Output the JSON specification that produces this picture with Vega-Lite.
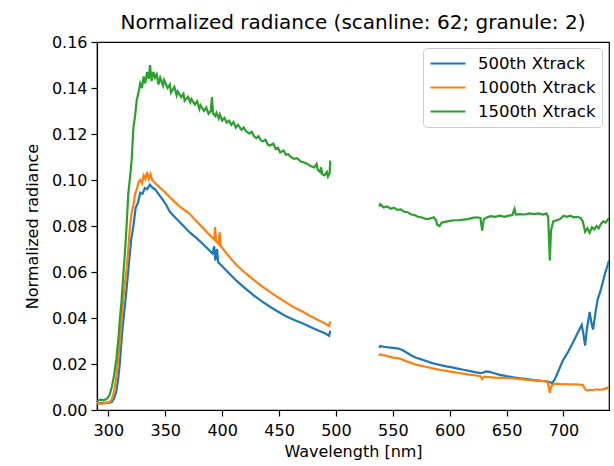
{
"$schema": "https://vega.github.io/schema/vega-lite/v6.json",
"width": 512, "height": 368,
"autosize": {"type": "none"},
"padding": {"left": 97, "top": 42, "right": 5, "bottom": 56},
"title": {"text": "Normalized radiance (scanline: 62; granule: 2)", "fontSize": 20, "fontWeight": "normal", "font": "DejaVu Sans", "color": "#000", "offset": 1},
"data": {"values": [
{"s":"500th Xtrack","g":1,"x":290,"y":0.0030},{"s":"500th Xtrack","g":1,"x":294,"y":0.0030},{"s":"500th Xtrack","g":1,"x":298,"y":0.0031},{"s":"500th Xtrack","g":1,"x":301,"y":0.0032},{"s":"500th Xtrack","g":1,"x":303,"y":0.0035},{"s":"500th Xtrack","g":1,"x":305,"y":0.0050},{"s":"500th Xtrack","g":1,"x":307,"y":0.0080},{"s":"500th Xtrack","g":1,"x":308.5,"y":0.0130},{"s":"500th Xtrack","g":1,"x":310,"y":0.0200},{"s":"500th Xtrack","g":1,"x":312,"y":0.0330},{"s":"500th Xtrack","g":1,"x":314,"y":0.0430},{"s":"500th Xtrack","g":1,"x":315.5,"y":0.0500},{"s":"500th Xtrack","g":1,"x":317,"y":0.0580},{"s":"500th Xtrack","g":1,"x":318.5,"y":0.0660},{"s":"500th Xtrack","g":1,"x":320,"y":0.0740},{"s":"500th Xtrack","g":1,"x":322,"y":0.0800},{"s":"500th Xtrack","g":1,"x":324,"y":0.0880},{"s":"500th Xtrack","g":1,"x":326,"y":0.0900},{"s":"500th Xtrack","g":1,"x":328,"y":0.0945},{"s":"500th Xtrack","g":1,"x":330,"y":0.0940},{"s":"500th Xtrack","g":1,"x":332,"y":0.0965},{"s":"500th Xtrack","g":1,"x":334,"y":0.0960},{"s":"500th Xtrack","g":1,"x":336.5,"y":0.0980},{"s":"500th Xtrack","g":1,"x":339,"y":0.0965},{"s":"500th Xtrack","g":1,"x":341,"y":0.0960},{"s":"500th Xtrack","g":1,"x":344,"y":0.0940},{"s":"500th Xtrack","g":1,"x":348,"y":0.0912},{"s":"500th Xtrack","g":1,"x":351,"y":0.0890},{"s":"500th Xtrack","g":1,"x":354,"y":0.0862},{"s":"500th Xtrack","g":1,"x":360,"y":0.0830},{"s":"500th Xtrack","g":1,"x":366,"y":0.0800},{"s":"500th Xtrack","g":1,"x":372,"y":0.0770},{"s":"500th Xtrack","g":1,"x":378,"y":0.0745},{"s":"500th Xtrack","g":1,"x":383,"y":0.0722},{"s":"500th Xtrack","g":1,"x":388,"y":0.0698},{"s":"500th Xtrack","g":1,"x":391.5,"y":0.0680},{"s":"500th Xtrack","g":1,"x":393,"y":0.0712},{"s":"500th Xtrack","g":1,"x":394,"y":0.0650},{"s":"500th Xtrack","g":1,"x":395.5,"y":0.0700},{"s":"500th Xtrack","g":1,"x":396.5,"y":0.0642},{"s":"500th Xtrack","g":1,"x":400,"y":0.0625},{"s":"500th Xtrack","g":1,"x":406,"y":0.0595},{"s":"500th Xtrack","g":1,"x":413,"y":0.0560},{"s":"500th Xtrack","g":1,"x":420,"y":0.0530},{"s":"500th Xtrack","g":1,"x":428,"y":0.0497},{"s":"500th Xtrack","g":1,"x":435,"y":0.0472},{"s":"500th Xtrack","g":1,"x":442,"y":0.0449},{"s":"500th Xtrack","g":1,"x":450,"y":0.0425},{"s":"500th Xtrack","g":1,"x":457,"y":0.0405},{"s":"500th Xtrack","g":1,"x":464,"y":0.0390},{"s":"500th Xtrack","g":1,"x":471,"y":0.0376},{"s":"500th Xtrack","g":1,"x":478,"y":0.0360},{"s":"500th Xtrack","g":1,"x":485,"y":0.0345},{"s":"500th Xtrack","g":1,"x":490,"y":0.0335},{"s":"500th Xtrack","g":1,"x":494,"y":0.0323},{"s":"500th Xtrack","g":1,"x":495,"y":0.0345},
{"s":"500th Xtrack","g":2,"x":538,"y":0.0270},{"s":"500th Xtrack","g":2,"x":539,"y":0.0278},{"s":"500th Xtrack","g":2,"x":542,"y":0.0275},{"s":"500th Xtrack","g":2,"x":546,"y":0.0272},{"s":"500th Xtrack","g":2,"x":550,"y":0.0270},{"s":"500th Xtrack","g":2,"x":554,"y":0.0268},{"s":"500th Xtrack","g":2,"x":558,"y":0.0262},{"s":"500th Xtrack","g":2,"x":562,"y":0.0250},{"s":"500th Xtrack","g":2,"x":566,"y":0.0238},{"s":"500th Xtrack","g":2,"x":570,"y":0.0228},{"s":"500th Xtrack","g":2,"x":575,"y":0.0220},{"s":"500th Xtrack","g":2,"x":580,"y":0.0212},{"s":"500th Xtrack","g":2,"x":584,"y":0.0205},{"s":"500th Xtrack","g":2,"x":588,"y":0.0200},{"s":"500th Xtrack","g":2,"x":592,"y":0.0195},{"s":"500th Xtrack","g":2,"x":597,"y":0.0190},{"s":"500th Xtrack","g":2,"x":602,"y":0.0185},{"s":"500th Xtrack","g":2,"x":607,"y":0.0180},{"s":"500th Xtrack","g":2,"x":612,"y":0.0175},{"s":"500th Xtrack","g":2,"x":617,"y":0.0170},{"s":"500th Xtrack","g":2,"x":622,"y":0.0165},{"s":"500th Xtrack","g":2,"x":627,"y":0.0160},{"s":"500th Xtrack","g":2,"x":629,"y":0.0162},{"s":"500th Xtrack","g":2,"x":632,"y":0.0168},{"s":"500th Xtrack","g":2,"x":635,"y":0.0166},{"s":"500th Xtrack","g":2,"x":639,"y":0.0160},{"s":"500th Xtrack","g":2,"x":644,"y":0.0153},{"s":"500th Xtrack","g":2,"x":650,"y":0.0147},{"s":"500th Xtrack","g":2,"x":656,"y":0.0142},{"s":"500th Xtrack","g":2,"x":662,"y":0.0138},{"s":"500th Xtrack","g":2,"x":668,"y":0.0134},{"s":"500th Xtrack","g":2,"x":674,"y":0.0130},{"s":"500th Xtrack","g":2,"x":680,"y":0.0127},{"s":"500th Xtrack","g":2,"x":686,"y":0.0124},{"s":"500th Xtrack","g":2,"x":689,"y":0.0120},{"s":"500th Xtrack","g":2,"x":690,"y":0.0115},{"s":"500th Xtrack","g":2,"x":693,"y":0.0140},{"s":"500th Xtrack","g":2,"x":696,"y":0.0175},{"s":"500th Xtrack","g":2,"x":699.6,"y":0.0217},{"s":"500th Xtrack","g":2,"x":704,"y":0.0252},{"s":"500th Xtrack","g":2,"x":708,"y":0.0290},{"s":"500th Xtrack","g":2,"x":712,"y":0.0330},{"s":"500th Xtrack","g":2,"x":716,"y":0.0370},{"s":"500th Xtrack","g":2,"x":717.5,"y":0.0330},{"s":"500th Xtrack","g":2,"x":719,"y":0.0280},{"s":"500th Xtrack","g":2,"x":720.5,"y":0.0350},{"s":"500th Xtrack","g":2,"x":723,"y":0.0426},{"s":"500th Xtrack","g":2,"x":724.5,"y":0.0380},{"s":"500th Xtrack","g":2,"x":726,"y":0.0350},{"s":"500th Xtrack","g":2,"x":728,"y":0.0420},{"s":"500th Xtrack","g":2,"x":730,"y":0.0480},{"s":"500th Xtrack","g":2,"x":732,"y":0.0510},{"s":"500th Xtrack","g":2,"x":734,"y":0.0545},{"s":"500th Xtrack","g":2,"x":736.5,"y":0.0594},{"s":"500th Xtrack","g":2,"x":738.5,"y":0.0625},{"s":"500th Xtrack","g":2,"x":740,"y":0.0650},
{"s":"1000th Xtrack","g":1,"x":290,"y":0.0030},{"s":"1000th Xtrack","g":1,"x":294,"y":0.0027},{"s":"1000th Xtrack","g":1,"x":298,"y":0.0031},{"s":"1000th Xtrack","g":1,"x":301,"y":0.0034},{"s":"1000th Xtrack","g":1,"x":303,"y":0.0045},{"s":"1000th Xtrack","g":1,"x":305,"y":0.0080},{"s":"1000th Xtrack","g":1,"x":307,"y":0.0143},{"s":"1000th Xtrack","g":1,"x":309,"y":0.0240},{"s":"1000th Xtrack","g":1,"x":310.5,"y":0.0320},{"s":"1000th Xtrack","g":1,"x":311.7,"y":0.0400},{"s":"1000th Xtrack","g":1,"x":313,"y":0.0480},{"s":"1000th Xtrack","g":1,"x":314.5,"y":0.0550},{"s":"1000th Xtrack","g":1,"x":316,"y":0.0610},{"s":"1000th Xtrack","g":1,"x":317.5,"y":0.0700},{"s":"1000th Xtrack","g":1,"x":319,"y":0.0800},{"s":"1000th Xtrack","g":1,"x":320.5,"y":0.0860},{"s":"1000th Xtrack","g":1,"x":322,"y":0.0890},{"s":"1000th Xtrack","g":1,"x":323.5,"y":0.0940},{"s":"1000th Xtrack","g":1,"x":325,"y":0.0960},{"s":"1000th Xtrack","g":1,"x":326.5,"y":0.0990},{"s":"1000th Xtrack","g":1,"x":328,"y":0.1000},{"s":"1000th Xtrack","g":1,"x":329.5,"y":0.0985},{"s":"1000th Xtrack","g":1,"x":331,"y":0.1020},{"s":"1000th Xtrack","g":1,"x":332.5,"y":0.1005},{"s":"1000th Xtrack","g":1,"x":334,"y":0.1035},{"s":"1000th Xtrack","g":1,"x":335.5,"y":0.1005},{"s":"1000th Xtrack","g":1,"x":337,"y":0.1025},{"s":"1000th Xtrack","g":1,"x":338.5,"y":0.1000},{"s":"1000th Xtrack","g":1,"x":340,"y":0.0992},{"s":"1000th Xtrack","g":1,"x":342,"y":0.0982},{"s":"1000th Xtrack","g":1,"x":345,"y":0.0968},{"s":"1000th Xtrack","g":1,"x":348,"y":0.0955},{"s":"1000th Xtrack","g":1,"x":351,"y":0.0940},{"s":"1000th Xtrack","g":1,"x":354,"y":0.0925},{"s":"1000th Xtrack","g":1,"x":358,"y":0.0906},{"s":"1000th Xtrack","g":1,"x":362,"y":0.0888},{"s":"1000th Xtrack","g":1,"x":365,"y":0.0876},{"s":"1000th Xtrack","g":1,"x":369,"y":0.0862},{"s":"1000th Xtrack","g":1,"x":372,"y":0.0850},{"s":"1000th Xtrack","g":1,"x":376,"y":0.0828},{"s":"1000th Xtrack","g":1,"x":380,"y":0.0808},{"s":"1000th Xtrack","g":1,"x":383,"y":0.0792},{"s":"1000th Xtrack","g":1,"x":387,"y":0.0771},{"s":"1000th Xtrack","g":1,"x":391,"y":0.0751},{"s":"1000th Xtrack","g":1,"x":393,"y":0.0742},{"s":"1000th Xtrack","g":1,"x":393.8,"y":0.0795},{"s":"1000th Xtrack","g":1,"x":394.6,"y":0.0736},{"s":"1000th Xtrack","g":1,"x":397,"y":0.0722},{"s":"1000th Xtrack","g":1,"x":397.8,"y":0.0772},{"s":"1000th Xtrack","g":1,"x":398.6,"y":0.0714},{"s":"1000th Xtrack","g":1,"x":404,"y":0.0680},{"s":"1000th Xtrack","g":1,"x":408,"y":0.0656},{"s":"1000th Xtrack","g":1,"x":413,"y":0.0628},{"s":"1000th Xtrack","g":1,"x":420,"y":0.0597},{"s":"1000th Xtrack","g":1,"x":428,"y":0.0565},{"s":"1000th Xtrack","g":1,"x":435,"y":0.0538},{"s":"1000th Xtrack","g":1,"x":442,"y":0.0514},{"s":"1000th Xtrack","g":1,"x":449,"y":0.0490},{"s":"1000th Xtrack","g":1,"x":456,"y":0.0468},{"s":"1000th Xtrack","g":1,"x":463,"y":0.0447},{"s":"1000th Xtrack","g":1,"x":471,"y":0.0427},{"s":"1000th Xtrack","g":1,"x":477,"y":0.0410},{"s":"1000th Xtrack","g":1,"x":483,"y":0.0395},{"s":"1000th Xtrack","g":1,"x":489,"y":0.0380},{"s":"1000th Xtrack","g":1,"x":494,"y":0.0365},{"s":"1000th Xtrack","g":1,"x":495,"y":0.0385},
{"s":"1000th Xtrack","g":2,"x":538,"y":0.0235},{"s":"1000th Xtrack","g":2,"x":539,"y":0.0242},{"s":"1000th Xtrack","g":2,"x":542,"y":0.0238},{"s":"1000th Xtrack","g":2,"x":546,"y":0.0233},{"s":"1000th Xtrack","g":2,"x":550,"y":0.0228},{"s":"1000th Xtrack","g":2,"x":554,"y":0.0226},{"s":"1000th Xtrack","g":2,"x":558,"y":0.0220},{"s":"1000th Xtrack","g":2,"x":562,"y":0.0212},{"s":"1000th Xtrack","g":2,"x":566,"y":0.0205},{"s":"1000th Xtrack","g":2,"x":570,"y":0.0198},{"s":"1000th Xtrack","g":2,"x":575,"y":0.0192},{"s":"1000th Xtrack","g":2,"x":580,"y":0.0187},{"s":"1000th Xtrack","g":2,"x":584,"y":0.0182},{"s":"1000th Xtrack","g":2,"x":588,"y":0.0178},{"s":"1000th Xtrack","g":2,"x":592,"y":0.0174},{"s":"1000th Xtrack","g":2,"x":597,"y":0.0170},{"s":"1000th Xtrack","g":2,"x":602,"y":0.0166},{"s":"1000th Xtrack","g":2,"x":607,"y":0.0162},{"s":"1000th Xtrack","g":2,"x":612,"y":0.0158},{"s":"1000th Xtrack","g":2,"x":617,"y":0.0154},{"s":"1000th Xtrack","g":2,"x":622,"y":0.0151},{"s":"1000th Xtrack","g":2,"x":627,"y":0.0147},{"s":"1000th Xtrack","g":2,"x":628.5,"y":0.0135},{"s":"1000th Xtrack","g":2,"x":630,"y":0.0145},{"s":"1000th Xtrack","g":2,"x":635,"y":0.0143},{"s":"1000th Xtrack","g":2,"x":640,"y":0.0141},{"s":"1000th Xtrack","g":2,"x":645,"y":0.0140},{"s":"1000th Xtrack","g":2,"x":650,"y":0.0139},{"s":"1000th Xtrack","g":2,"x":656,"y":0.0137},{"s":"1000th Xtrack","g":2,"x":662,"y":0.0134},{"s":"1000th Xtrack","g":2,"x":668,"y":0.0131},{"s":"1000th Xtrack","g":2,"x":674,"y":0.0129},{"s":"1000th Xtrack","g":2,"x":680,"y":0.0127},{"s":"1000th Xtrack","g":2,"x":686,"y":0.0124},{"s":"1000th Xtrack","g":2,"x":688,"y":0.0075},{"s":"1000th Xtrack","g":2,"x":689,"y":0.0100},{"s":"1000th Xtrack","g":2,"x":691,"y":0.0112},{"s":"1000th Xtrack","g":2,"x":694,"y":0.0115},{"s":"1000th Xtrack","g":2,"x":698,"y":0.0112},{"s":"1000th Xtrack","g":2,"x":702,"y":0.0113},{"s":"1000th Xtrack","g":2,"x":706,"y":0.0111},{"s":"1000th Xtrack","g":2,"x":710,"y":0.0112},{"s":"1000th Xtrack","g":2,"x":714,"y":0.0110},{"s":"1000th Xtrack","g":2,"x":717,"y":0.0109},{"s":"1000th Xtrack","g":2,"x":719,"y":0.0090},{"s":"1000th Xtrack","g":2,"x":721,"y":0.0085},{"s":"1000th Xtrack","g":2,"x":723,"y":0.0088},{"s":"1000th Xtrack","g":2,"x":726,"y":0.0086},{"s":"1000th Xtrack","g":2,"x":729,"y":0.0090},{"s":"1000th Xtrack","g":2,"x":732,"y":0.0088},{"s":"1000th Xtrack","g":2,"x":735,"y":0.0090},{"s":"1000th Xtrack","g":2,"x":738,"y":0.0095},{"s":"1000th Xtrack","g":2,"x":740,"y":0.0100},
{"s":"1500th Xtrack","g":1,"x":290,"y":0.0040},{"s":"1500th Xtrack","g":1,"x":293,"y":0.0045},{"s":"1500th Xtrack","g":1,"x":296,"y":0.0042},{"s":"1500th Xtrack","g":1,"x":299,"y":0.0050},{"s":"1500th Xtrack","g":1,"x":301,"y":0.0065},{"s":"1500th Xtrack","g":1,"x":303,"y":0.0100},{"s":"1500th Xtrack","g":1,"x":305,"y":0.0150},{"s":"1500th Xtrack","g":1,"x":307,"y":0.0220},{"s":"1500th Xtrack","g":1,"x":309,"y":0.0320},{"s":"1500th Xtrack","g":1,"x":310,"y":0.0390},{"s":"1500th Xtrack","g":1,"x":311.5,"y":0.0470},{"s":"1500th Xtrack","g":1,"x":313,"y":0.0580},{"s":"1500th Xtrack","g":1,"x":314.5,"y":0.0680},{"s":"1500th Xtrack","g":1,"x":316,"y":0.0800},{"s":"1500th Xtrack","g":1,"x":317.5,"y":0.0940},{"s":"1500th Xtrack","g":1,"x":319,"y":0.1010},{"s":"1500th Xtrack","g":1,"x":320.5,"y":0.1090},{"s":"1500th Xtrack","g":1,"x":322,"y":0.1230},{"s":"1500th Xtrack","g":1,"x":323.5,"y":0.1280},{"s":"1500th Xtrack","g":1,"x":325,"y":0.1350},{"s":"1500th Xtrack","g":1,"x":326.5,"y":0.1380},{"s":"1500th Xtrack","g":1,"x":328,"y":0.1420},{"s":"1500th Xtrack","g":1,"x":329.5,"y":0.1400},{"s":"1500th Xtrack","g":1,"x":331,"y":0.1450},{"s":"1500th Xtrack","g":1,"x":332.5,"y":0.1420},{"s":"1500th Xtrack","g":1,"x":334,"y":0.1470},{"s":"1500th Xtrack","g":1,"x":335.5,"y":0.1440},{"s":"1500th Xtrack","g":1,"x":336.6,"y":0.1500},{"s":"1500th Xtrack","g":1,"x":338,"y":0.1430},{"s":"1500th Xtrack","g":1,"x":339.5,"y":0.1470},{"s":"1500th Xtrack","g":1,"x":341,"y":0.1445},{"s":"1500th Xtrack","g":1,"x":342.5,"y":0.1460},{"s":"1500th Xtrack","g":1,"x":344,"y":0.1415},{"s":"1500th Xtrack","g":1,"x":345.5,"y":0.1445},{"s":"1500th Xtrack","g":1,"x":348,"y":0.1410},{"s":"1500th Xtrack","g":1,"x":349,"y":0.1435},{"s":"1500th Xtrack","g":1,"x":352,"y":0.1400},{"s":"1500th Xtrack","g":1,"x":354,"y":0.1415},{"s":"1500th Xtrack","g":1,"x":355,"y":0.1380},{"s":"1500th Xtrack","g":1,"x":358,"y":0.1405},{"s":"1500th Xtrack","g":1,"x":360,"y":0.1368},{"s":"1500th Xtrack","g":1,"x":361,"y":0.1385},{"s":"1500th Xtrack","g":1,"x":364,"y":0.1360},{"s":"1500th Xtrack","g":1,"x":366,"y":0.1375},{"s":"1500th Xtrack","g":1,"x":367,"y":0.1345},{"s":"1500th Xtrack","g":1,"x":370,"y":0.1362},{"s":"1500th Xtrack","g":1,"x":372,"y":0.1338},{"s":"1500th Xtrack","g":1,"x":373,"y":0.1352},{"s":"1500th Xtrack","g":1,"x":376,"y":0.1328},{"s":"1500th Xtrack","g":1,"x":378,"y":0.1342},{"s":"1500th Xtrack","g":1,"x":380,"y":0.1308},{"s":"1500th Xtrack","g":1,"x":381,"y":0.1325},{"s":"1500th Xtrack","g":1,"x":384,"y":0.1300},{"s":"1500th Xtrack","g":1,"x":386,"y":0.1315},{"s":"1500th Xtrack","g":1,"x":388,"y":0.1288},{"s":"1500th Xtrack","g":1,"x":390,"y":0.1300},{"s":"1500th Xtrack","g":1,"x":391,"y":0.1360},{"s":"1500th Xtrack","g":1,"x":392,"y":0.1290},{"s":"1500th Xtrack","g":1,"x":394,"y":0.1278},{"s":"1500th Xtrack","g":1,"x":395,"y":0.1292},{"s":"1500th Xtrack","g":1,"x":397,"y":0.1268},{"s":"1500th Xtrack","g":1,"x":398,"y":0.1285},{"s":"1500th Xtrack","g":1,"x":400,"y":0.1258},{"s":"1500th Xtrack","g":1,"x":402,"y":0.1270},{"s":"1500th Xtrack","g":1,"x":404,"y":0.1250},{"s":"1500th Xtrack","g":1,"x":406,"y":0.1258},{"s":"1500th Xtrack","g":1,"x":408,"y":0.1240},{"s":"1500th Xtrack","g":1,"x":410,"y":0.1252},{"s":"1500th Xtrack","g":1,"x":412,"y":0.1228},{"s":"1500th Xtrack","g":1,"x":414,"y":0.1240},{"s":"1500th Xtrack","g":1,"x":417,"y":0.1218},{"s":"1500th Xtrack","g":1,"x":419,"y":0.1228},{"s":"1500th Xtrack","g":1,"x":421,"y":0.1212},{"s":"1500th Xtrack","g":1,"x":424,"y":0.1202},{"s":"1500th Xtrack","g":1,"x":426,"y":0.1210},{"s":"1500th Xtrack","g":1,"x":428,"y":0.1190},{"s":"1500th Xtrack","g":1,"x":430,"y":0.1182},{"s":"1500th Xtrack","g":1,"x":432,"y":0.1190},{"s":"1500th Xtrack","g":1,"x":434,"y":0.1172},{"s":"1500th Xtrack","g":1,"x":436,"y":0.1168},{"s":"1500th Xtrack","g":1,"x":438,"y":0.1175},{"s":"1500th Xtrack","g":1,"x":440,"y":0.1155},{"s":"1500th Xtrack","g":1,"x":442,"y":0.1150},{"s":"1500th Xtrack","g":1,"x":445,"y":0.1158},{"s":"1500th Xtrack","g":1,"x":447,"y":0.1135},{"s":"1500th Xtrack","g":1,"x":449,"y":0.1140},{"s":"1500th Xtrack","g":1,"x":451,"y":0.1120},{"s":"1500th Xtrack","g":1,"x":454,"y":0.1128},{"s":"1500th Xtrack","g":1,"x":456,"y":0.1110},{"s":"1500th Xtrack","g":1,"x":458,"y":0.1112},{"s":"1500th Xtrack","g":1,"x":460,"y":0.1102},{"s":"1500th Xtrack","g":1,"x":463,"y":0.1092},{"s":"1500th Xtrack","g":1,"x":466,"y":0.1095},{"s":"1500th Xtrack","g":1,"x":469,"y":0.1080},{"s":"1500th Xtrack","g":1,"x":472,"y":0.1076},{"s":"1500th Xtrack","g":1,"x":475,"y":0.1070},{"s":"1500th Xtrack","g":1,"x":478,"y":0.1060},{"s":"1500th Xtrack","g":1,"x":481,"y":0.1055},{"s":"1500th Xtrack","g":1,"x":483,"y":0.1070},{"s":"1500th Xtrack","g":1,"x":484,"y":0.1045},{"s":"1500th Xtrack","g":1,"x":486,"y":0.1035},{"s":"1500th Xtrack","g":1,"x":487,"y":0.1055},{"s":"1500th Xtrack","g":1,"x":488,"y":0.1025},{"s":"1500th Xtrack","g":1,"x":490,"y":0.1020},{"s":"1500th Xtrack","g":1,"x":492,"y":0.1035},{"s":"1500th Xtrack","g":1,"x":493,"y":0.1015},{"s":"1500th Xtrack","g":1,"x":494.5,"y":0.1030},{"s":"1500th Xtrack","g":1,"x":495,"y":0.1085},
{"s":"1500th Xtrack","g":2,"x":538,"y":0.0885},{"s":"1500th Xtrack","g":2,"x":539,"y":0.0895},{"s":"1500th Xtrack","g":2,"x":542,"y":0.0880},{"s":"1500th Xtrack","g":2,"x":545,"y":0.0885},{"s":"1500th Xtrack","g":2,"x":548,"y":0.0875},{"s":"1500th Xtrack","g":2,"x":551,"y":0.0880},{"s":"1500th Xtrack","g":2,"x":554,"y":0.0870},{"s":"1500th Xtrack","g":2,"x":557,"y":0.0872},{"s":"1500th Xtrack","g":2,"x":560,"y":0.0862},{"s":"1500th Xtrack","g":2,"x":563,"y":0.0860},{"s":"1500th Xtrack","g":2,"x":566,"y":0.0850},{"s":"1500th Xtrack","g":2,"x":569,"y":0.0848},{"s":"1500th Xtrack","g":2,"x":572,"y":0.0840},{"s":"1500th Xtrack","g":2,"x":575,"y":0.0838},{"s":"1500th Xtrack","g":2,"x":578,"y":0.0832},{"s":"1500th Xtrack","g":2,"x":581,"y":0.0830},{"s":"1500th Xtrack","g":2,"x":584,"y":0.0835},{"s":"1500th Xtrack","g":2,"x":586,"y":0.0838},{"s":"1500th Xtrack","g":2,"x":588,"y":0.0825},{"s":"1500th Xtrack","g":2,"x":589,"y":0.0805},{"s":"1500th Xtrack","g":2,"x":591,"y":0.0800},{"s":"1500th Xtrack","g":2,"x":593,"y":0.0815},{"s":"1500th Xtrack","g":2,"x":596,"y":0.0818},{"s":"1500th Xtrack","g":2,"x":600,"y":0.0822},{"s":"1500th Xtrack","g":2,"x":604,"y":0.0825},{"s":"1500th Xtrack","g":2,"x":608,"y":0.0825},{"s":"1500th Xtrack","g":2,"x":612,"y":0.0828},{"s":"1500th Xtrack","g":2,"x":616,"y":0.0830},{"s":"1500th Xtrack","g":2,"x":620,"y":0.0835},{"s":"1500th Xtrack","g":2,"x":624,"y":0.0838},{"s":"1500th Xtrack","g":2,"x":627,"y":0.0835},{"s":"1500th Xtrack","g":2,"x":628.5,"y":0.0780},{"s":"1500th Xtrack","g":2,"x":630,"y":0.0830},{"s":"1500th Xtrack","g":2,"x":633,"y":0.0838},{"s":"1500th Xtrack","g":2,"x":636,"y":0.0843},{"s":"1500th Xtrack","g":2,"x":640,"y":0.0840},{"s":"1500th Xtrack","g":2,"x":644,"y":0.0845},{"s":"1500th Xtrack","g":2,"x":648,"y":0.0840},{"s":"1500th Xtrack","g":2,"x":652,"y":0.0845},{"s":"1500th Xtrack","g":2,"x":655,"y":0.0848},{"s":"1500th Xtrack","g":2,"x":657,"y":0.0875},{"s":"1500th Xtrack","g":2,"x":658,"y":0.0850},{"s":"1500th Xtrack","g":2,"x":662,"y":0.0852},{"s":"1500th Xtrack","g":2,"x":666,"y":0.0850},{"s":"1500th Xtrack","g":2,"x":670,"y":0.0855},{"s":"1500th Xtrack","g":2,"x":674,"y":0.0852},{"s":"1500th Xtrack","g":2,"x":678,"y":0.0855},{"s":"1500th Xtrack","g":2,"x":682,"y":0.0850},{"s":"1500th Xtrack","g":2,"x":685,"y":0.0855},{"s":"1500th Xtrack","g":2,"x":686.5,"y":0.0840},{"s":"1500th Xtrack","g":2,"x":688,"y":0.0650},{"s":"1500th Xtrack","g":2,"x":689,"y":0.0780},{"s":"1500th Xtrack","g":2,"x":691,"y":0.0820},{"s":"1500th Xtrack","g":2,"x":694,"y":0.0825},{"s":"1500th Xtrack","g":2,"x":697,"y":0.0830},{"s":"1500th Xtrack","g":2,"x":700,"y":0.0845},{"s":"1500th Xtrack","g":2,"x":703,"y":0.0840},{"s":"1500th Xtrack","g":2,"x":706,"y":0.0845},{"s":"1500th Xtrack","g":2,"x":709,"y":0.0838},{"s":"1500th Xtrack","g":2,"x":712,"y":0.0840},{"s":"1500th Xtrack","g":2,"x":715,"y":0.0835},{"s":"1500th Xtrack","g":2,"x":717,"y":0.0820},{"s":"1500th Xtrack","g":2,"x":719,"y":0.0775},{"s":"1500th Xtrack","g":2,"x":721,"y":0.0790},{"s":"1500th Xtrack","g":2,"x":723,"y":0.0770},{"s":"1500th Xtrack","g":2,"x":725,"y":0.0795},{"s":"1500th Xtrack","g":2,"x":727,"y":0.0785},{"s":"1500th Xtrack","g":2,"x":729,"y":0.0800},{"s":"1500th Xtrack","g":2,"x":731,"y":0.0790},{"s":"1500th Xtrack","g":2,"x":733,"y":0.0810},{"s":"1500th Xtrack","g":2,"x":735,"y":0.0820},{"s":"1500th Xtrack","g":2,"x":737,"y":0.0815},{"s":"1500th Xtrack","g":2,"x":740,"y":0.0835}
]},
"mark": {"type": "line", "strokeWidth": 2.2, "clip": true},
"encoding": {
  "x": {"field": "x", "type": "quantitative", "scale": {"domain": [290, 740], "nice": false, "zero": false},
        "axis": {"title": "Wavelength [nm]", "values": [300, 350, 400, 450, 500, 550, 600, 650, 700], "labelPadding": 6, "titlePadding": 5}},
  "y": {"field": "y", "type": "quantitative", "scale": {"domain": [0, 0.16], "nice": false, "zero": false},
        "axis": {"title": "Normalized radiance", "values": [0, 0.02, 0.04, 0.06, 0.08, 0.1, 0.12, 0.14, 0.16], "format": ".2f", "titlePadding": 11}},
  "color": {"field": "s", "type": "nominal",
            "scale": {"domain": ["500th Xtrack", "1000th Xtrack", "1500th Xtrack"], "range": ["#1f77b4", "#ff7f0e", "#2ca02c"]},
            "legend": {"title": null, "orient": "none", "legendX": 326, "legendY": 6}},
  "detail": {"field": "g", "type": "nominal"}
},
"config": {
  "font": "DejaVu Sans",
  "view": {"stroke": "#000", "strokeWidth": 1.2},
  "axis": {"domainColor": "#000", "domainWidth": 1.2, "tickColor": "#000", "tickWidth": 1.2, "tickSize": 6, "labelColor": "#000", "titleColor": "#000", "labelFontSize": 16, "titleFontSize": 16, "titleFontWeight": "normal", "grid": false, "labelFlush": false, "labelPadding": 4, "labelFont": "DejaVu Sans", "titleFont": "DejaVu Sans"},
  "legend": {"fillColor": "#fff", "strokeColor": "#cccccc", "cornerRadius": 4, "padding": 6, "labelFontSize": 16.5, "labelColor": "#000", "labelFont": "DejaVu Sans", "labelOffset": 11, "symbolType": "stroke", "symbolSize": 1225, "symbolStrokeWidth": 2.2, "clipHeight": 19, "rowPadding": 5}
}
}
